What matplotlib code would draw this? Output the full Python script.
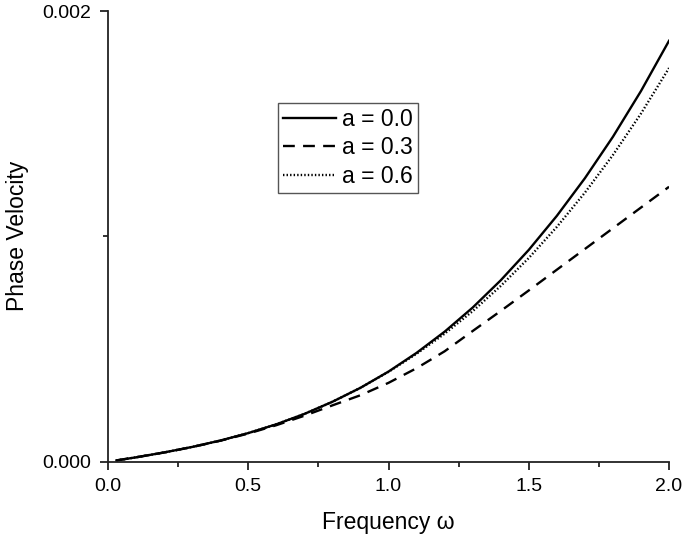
import numpy as np
import matplotlib
matplotlib.use("Agg")
import matplotlib.pyplot as plt
from matplotlib.ticker import MultipleLocator

plt.rcParams['font.family'] = ['Liberation Sans', 'DejaVu Sans']

# frequency grid
freq = [0.03, 0.1, 0.2, 0.3, 0.4, 0.5, 0.6, 0.7, 0.8, 0.9, 1.0,
        1.1, 1.2, 1.3, 1.4, 1.5, 1.6, 1.7, 1.8, 1.9, 2.0]

# phase velocity, units of 1e-4
v_a00 = [0.057, 0.195, 0.41, 0.655, 0.938, 1.27, 1.66, 2.12, 2.66, 3.28, 4.00,
         4.83, 5.77, 6.84, 8.05, 9.40, 10.91, 12.58, 14.42, 16.45, 18.68]
v_a03 = [0.057, 0.195, 0.41, 0.65, 0.93, 1.25, 1.62, 2.04, 2.50, 2.95, 3.50,
         4.15, 4.90, 5.80, 6.69, 7.60, 8.52, 9.44, 10.36, 11.28, 12.20]
v_a06 = [0.057, 0.195, 0.41, 0.655, 0.938, 1.27, 1.66, 2.12, 2.66, 3.28, 3.99,
         4.79, 5.68, 6.68, 7.80, 9.04, 10.42, 11.94, 13.61, 15.45, 17.47]

labels = ['a = 0.0', 'a = 0.3', 'a = 0.6']

fig = plt.figure(figsize=(6.85, 5.35), dpi=100)
ax = fig.add_axes([0.1577, 0.137, 0.819, 0.8424])

x = np.array(freq)
ax.plot(x, np.array(v_a00) * 1e-4, color='black', lw=1.7, label=labels[0])
ax.plot(x, np.array(v_a03) * 1e-4, color='black', lw=1.7, dashes=(5.0, 3.5), label=labels[1])
ax.plot(x, np.array(v_a06) * 1e-4, color='black', lw=1.7, linestyle=(0, (0.6, 0.9)), label=labels[2])

ax.set_xlim(0, 2.0)
ax.set_ylim(0, 0.002)
ax.set_xticks([0.0, 0.5, 1.0, 1.5, 2.0])
ax.set_xticklabels(['0.0', '0.5', '1.0', '1.5', '2.0'])
ax.xaxis.set_minor_locator(MultipleLocator(0.25))
ax.set_yticks([0.0, 0.002])
ax.set_yticklabels(['0.000', '0.002'])
ax.yaxis.set_minor_locator(MultipleLocator(0.001))

for s in ['top', 'right']:
    ax.spines[s].set_visible(False)
for s in ['left', 'bottom']:
    ax.spines[s].set_linewidth(1.3)
    ax.spines[s].set_color('#222222')

ax.tick_params(which='major', direction='out', length=6, width=1.3, labelsize=14, color='#222222', pad=6)
ax.tick_params(which='minor', direction='out', length=3.5, width=1.3, color='#222222')

ax.set_xlabel('Frequency ω', fontsize=16.5, labelpad=11)
ax.set_ylabel('Phase Velocity', fontsize=16.5, labelpad=10)

leg = ax.legend(loc='upper left', bbox_to_anchor=(0.303, 0.796), borderaxespad=0,
                fontsize=16.5, handlelength=2.35, handletextpad=0.25, labelspacing=0.25,
                borderpad=0.2, fancybox=False, framealpha=1)
leg.get_frame().set_edgecolor('#555555')
leg.get_frame().set_linewidth(1.0)

fig.savefig('out.png', dpi=100)
